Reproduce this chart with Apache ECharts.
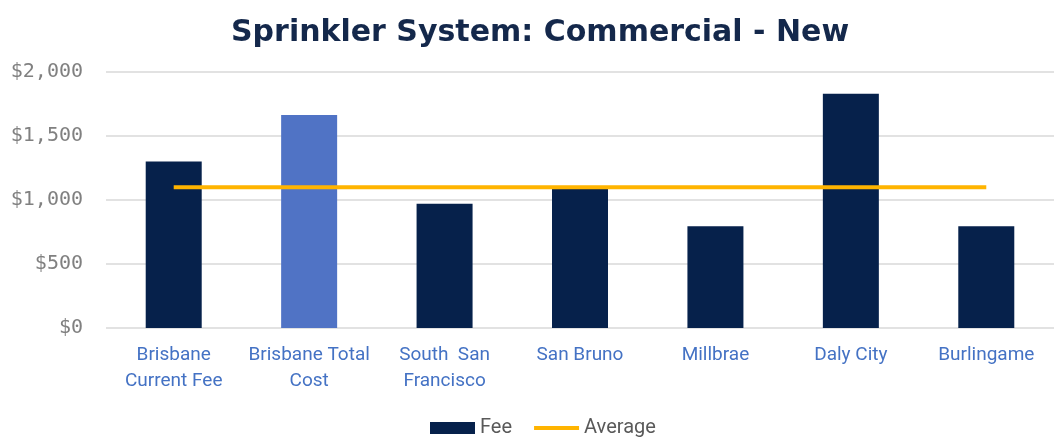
<!DOCTYPE html>
<html><head><meta charset="utf-8">
<script src="https://cdn.jsdelivr.net/npm/echarts@6/dist/echarts.min.js"></script>
<style>html,body{margin:0;padding:0;background:#fff}#c{width:1055px;height:438px}</style>
</head><body><div id="c"></div>
<script>
const categories = ["Brisbane\nCurrent Fee", "Brisbane Total\nCost", "South  San\nFrancisco", "San Bruno", "Millbrae", "Daly City", "Burlingame"];
const feeValues = [1300, 1665, 970, 1095, 795, 1830, 795];
const averageValues = [1100, 1100, 1100, 1100, 1100, 1100, 1100];
const highlightIndex = 1;
const yTicks = [0, 500, 1000, 1500, 2000];

const chart = echarts.init(document.getElementById('c'));
chart.setOption({
  animation: false,
  title: {
    text: 'Sprinkler System: Commercial - New',
    left: 226, top: 13,
    textStyle: { fontFamily: 'DejaVu Sans', fontWeight: 'bold', fontSize: 30, color: '#14284B' }
  },
  grid: { left: 106, right: 1, top: 72, bottom: 110 },
  legend: {
    bottom: -5, left: 425, itemGap: 20, itemWidth: 45, itemHeight: 12,
    textStyle: { fontFamily: 'Roboto', fontSize: 20, color: '#595959' },
    data: [
      { name: 'Fee', icon: 'rect', itemStyle: { color: '#06214B' } },
      { name: 'Average', itemStyle: { opacity: 0 }, lineStyle: { color: '#FFB400', width: 4 } }
    ]
  },
  xAxis: {
    type: 'category', data: categories,
    axisLine: { show: false }, axisTick: { show: false },
    axisLabel: { fontFamily: 'Roboto', fontSize: 19, color: '#4472C4', lineHeight: 26, margin: 14, interval: 0 }
  },
  yAxis: {
    type: 'value', min: yTicks[0], max: yTicks[yTicks.length - 1], interval: 500,
    axisLine: { show: false }, axisTick: { show: false },
    splitLine: { lineStyle: { color: '#D9D9D9', width: 1.5 } },
    axisLabel: {
      fontFamily: 'DejaVu Sans Mono', fontSize: 20, color: '#808080', margin: 23,
      formatter: v => '$' + v.toLocaleString('en-US')
    }
  },
  series: [
    {
      name: 'Fee', type: 'bar', barWidth: 56,
      data: feeValues.map((v, i) => ({ value: v, itemStyle: { color: i === highlightIndex ? '#5073C5' : '#06214B' } })),
      itemStyle: { color: '#06214B' }
    },
    {
      name: 'Average', type: 'line', data: averageValues, symbol: 'none',
      lineStyle: { color: '#FFB400', width: 4 }, itemStyle: { color: '#FFB400' }
    }
  ]
});
</script></body></html>
